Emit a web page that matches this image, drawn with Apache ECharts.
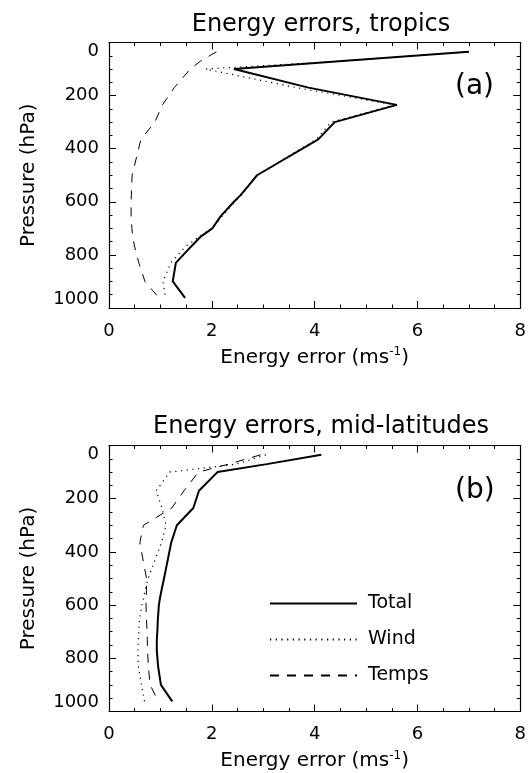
<!DOCTYPE html>
<html>
<head>
<meta charset="utf-8">
<script src="https://cdn.jsdelivr.net/npm/echarts@6/dist/echarts.min.js"></script>
<style>
html, body { margin: 0; padding: 0; background: #fff; }
#chart { width: 529px; height: 773px; }
</style>
</head>
<body>
<div id="chart"></div>
<script>
// pressure levels (hPa) shared by all profiles
const levels = [35, 70, 100, 170, 235, 300, 365, 500, 545, 575, 600, 655, 700, 730, 770, 830, 900, 962];

// (a) tropics
const totalTropics = [7.00, 4.54, 2.43, 3.88, 5.60, 4.39, 4.07, 2.88, 2.69, 2.56, 2.43, 2.17, 2.01, 1.79, 1.59, 1.30, 1.24, 1.48];
const windTropics  = [7.00, 4.50, 1.88, 3.65, 5.55, 4.32, 4.03, 2.88, 2.70, 2.57, 2.45, 2.20, 2.00, 1.76, 1.48, 1.20, 1.05, 1.10];
const tempsTropics = [2.09, 1.78, 1.58, 1.27, 1.04, 0.89, 0.62, 0.45, 0.44, 0.435, 0.43, 0.43, 0.445, 0.46, 0.50, 0.58, 0.70, 0.97];

// (b) mid-latitudes
const totalMid = [4.13, 3.07, 2.11, 1.75, 1.64, 1.32, 1.21, 1.07, 1.02, 0.99, 0.97, 0.95, 0.94, 0.93, 0.93, 0.955, 1.01, 1.23];
const windMid  = [3.05, 2.48, 1.18, 0.92, 1.03, 1.11, 1.02, 0.76, 0.70, 0.67, 0.64, 0.59, 0.58, 0.57, 0.56, 0.57, 0.63, 0.69];
const tempsMid = [2.95, 2.33, 1.74, 1.46, 1.22, 0.67, 0.60, 0.73, 0.73, 0.72, 0.72, 0.73, 0.74, 0.745, 0.75, 0.765, 0.80, 0.96];

const xTicks = [0, 2, 4, 6, 8];
const yTicks = [0, 200, 400, 600, 800, 1000];
const xMinorStep = 0.5;
const yMinorStep = 50;

const FONT = 'DejaVu Sans';
const chart = echarts.init(document.getElementById('chart'));

const tickStyle = { color: '#000', width: 1 };
const lineAxis = { show: true, onZero: false, lineStyle: { color: '#000', width: 1.2 } };
const noLine = { show: false, onZero: false };

// box axes: labelled side, mirrored side, plus tick-only axes for the minor ticks (all ticks point inwards)
function xAxes(grid) {
    const base = {
        gridIndex: grid, type: 'value',
        min: xTicks[0], max: xTicks[xTicks.length - 1], interval: xTicks[1] - xTicks[0],
        axisLine: lineAxis,
        axisTick: { inside: true, length: 7, lineStyle: tickStyle },
        axisLabel: { show: false },
        splitLine: { show: false }
    };
    const minor = Object.assign({}, base, {
        interval: xMinorStep, axisLine: noLine,
        axisTick: { inside: true, length: 3.5, lineStyle: tickStyle }
    });
    return [
        Object.assign({}, base, {
            position: 'bottom',
            axisLabel: { fontSize: 18, color: '#000', margin: 14, fontFamily: FONT },
            name: 'Energy error (ms{sup|-1})',
            nameLocation: 'middle', nameGap: 38,
            nameTextStyle: {
                fontSize: 20, color: '#000', fontFamily: FONT,
                rich: { sup: { fontSize: 12, fontFamily: FONT, color: '#000', padding: [0, 0, 11, 0] } }
            }
        }),
        Object.assign({}, base, { position: 'top' }),
        Object.assign({}, minor, { position: 'bottom' }),
        Object.assign({}, minor, { position: 'top' })
    ];
}

function yAxes(grid) {
    const base = {
        gridIndex: grid, type: 'value', inverse: true,
        min: yTicks[0], max: yTicks[yTicks.length - 1], interval: yTicks[1] - yTicks[0],
        axisLine: lineAxis,
        axisTick: { inside: true, length: 7, lineStyle: tickStyle },
        axisLabel: { show: false },
        splitLine: { show: false }
    };
    const minor = Object.assign({}, base, {
        interval: yMinorStep, axisLine: noLine,
        axisTick: { inside: true, length: 3.5, lineStyle: tickStyle }
    });
    return [
        Object.assign({}, base, {
            position: 'left',
            axisLabel: {
                fontSize: 18, color: '#000', margin: 10, fontFamily: FONT,
                formatter: v => String(v),
                verticalAlignMinLabel: 'top', verticalAlignMaxLabel: 'bottom'
            },
            name: 'Pressure (hPa)', nameLocation: 'middle', nameRotate: 90, nameGap: 70,
            nameTextStyle: { fontSize: 20, color: '#000', fontFamily: FONT }
        }),
        Object.assign({}, base, { position: 'right' }),
        Object.assign({}, minor, { position: 'left' }),
        Object.assign({}, minor, { position: 'right' })
    ];
}

function profile(name, vals, axis, style) {
    return {
        name: name, type: 'line', xAxisIndex: axis, yAxisIndex: axis,
        data: levels.map((p, i) => [vals[i], p]),
        symbol: 'none', silent: true,
        lineStyle: Object.assign({ color: '#000' }, style),
        itemStyle: { color: '#000', opacity: 0 }
    };
}

const solid = { width: 2, type: 'solid' };
const dotted = { width: 1.2, type: [1.2, 4.5] };
const dashed = { width: 1, type: [9, 8] };

chart.setOption({
    animation: false,
    backgroundColor: '#fff',
    textStyle: { fontFamily: FONT, color: '#000' },
    title: [
        { text: 'Energy errors, tropics', left: 316, top: 8, textAlign: 'center',
          textStyle: { fontSize: 24, fontWeight: 'normal', color: '#000', fontFamily: FONT } },
        { text: 'Energy errors, mid-latitudes', left: 316, top: 410, textAlign: 'center',
          textStyle: { fontSize: 24, fontWeight: 'normal', color: '#000', fontFamily: FONT } }
    ],
    grid: [
        { left: 109, top: 42.5, width: 413.5, height: 265.5 },
        { left: 109, top: 445.5, width: 413.5, height: 266 }
    ],
    xAxis: xAxes(0).concat(xAxes(1)),
    yAxis: yAxes(0).concat(yAxes(1)),
    legend: {
        data: ['Total', 'Wind', 'Temps'],
        orient: 'vertical', left: 264, top: 589,
        itemWidth: 87, itemHeight: 14, itemGap: 17,
        itemStyle: { opacity: 0 },
        textStyle: { fontSize: 19, color: '#000', fontFamily: FONT, padding: [0, 0, 0, 6] },
        selectedMode: false
    },
    graphic: [
        { type: 'text', x: 455, y: 87, style: { text: '(a)', fontSize: 28, fill: '#000', fontFamily: FONT, align: 'left', verticalAlign: 'middle' } },
        { type: 'text', x: 455, y: 491, style: { text: '(b)', fontSize: 28, fill: '#000', fontFamily: FONT, align: 'left', verticalAlign: 'middle' } }
    ],
    series: [
        profile('Total', totalTropics, 0, solid),
        profile('Wind', windTropics, 0, dotted),
        profile('Temps', tempsTropics, 0, dashed),
        profile('Total', totalMid, 4, solid),
        profile('Wind', windMid, 4, dotted),
        profile('Temps', tempsMid, 4, dashed)
    ]
});
</script>
</body>
</html>
